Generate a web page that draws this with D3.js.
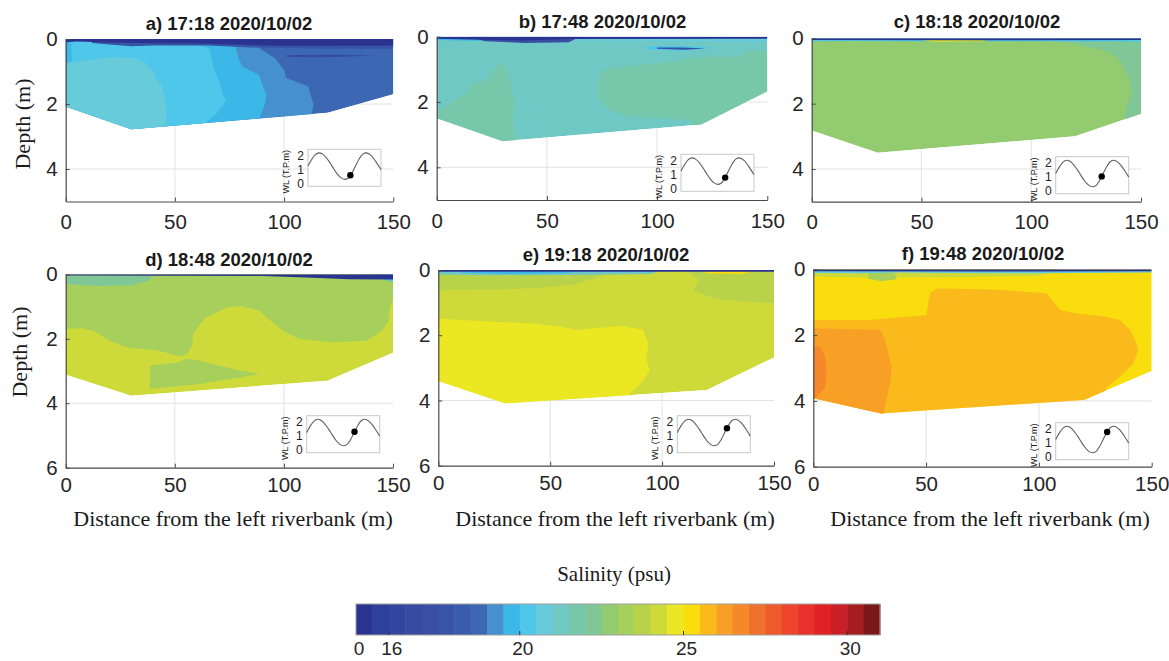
<!DOCTYPE html>
<html>
<head>
<meta charset="utf-8">
<script src="https://cdn.jsdelivr.net/npm/d3@7"></script>
<style>
  body { margin: 0; background: #ffffff; }
  svg { display: block; }
</style>
</head>
<body>
<svg id="fig" width="1169" height="661"></svg>
<script>
// ---------- colour scale (0.5 psu bins from 15 to 31) ----------
const binColors = [
  "#2b3390", "#2e3f9c", "#33469f", "#374ba2", "#3a4fa4", "#3953a6", "#3a5bab", "#3c68b3",
  "#4590cd", "#3bb7e8", "#4fc7ea", "#67cbd9", "#6fc8c4", "#77c8ab", "#80c797", "#93cb70",
  "#a6cf5c", "#b8d34a", "#cdda3a", "#ece723", "#f9dd0d", "#fbba1c", "#f8a025", "#f5892a",
  "#f0702d", "#ee5a2c", "#ec452b", "#e9302a", "#e22127", "#ca1f26", "#a31d21", "#7b1619"
];
const binEdges = d3.range(15, 31.01, 0.5);
const colorbarTicks = [15, 16, 20, 25, 30];
const colorbarTickText = ["0", "16", "20", "25", "30"];

// ---------- panel text ----------
const panelTitles = [
  "a) 17:18 2020/10/02", "b) 17:48 2020/10/02", "c) 18:18 2020/10/02",
  "d) 18:48 2020/10/02", "e) 19:18 2020/10/02", "f) 19:48 2020/10/02"
];
const distanceTicks = [0, 50, 100, 150];
const depthTicksTop = [0, 2, 4];
const depthTicksBottom = [0, 2, 4, 6];

// ---------- river bed: depth (m) at the survey stations ----------
const bedStations = [0, 30, 120, 150];
const bedA = [2.08, 2.78, 2.27, 1.70];
const bedB = [2.50, 3.20, 2.69, 1.67];
const bedC = [2.82, 3.50, 3.00, 2.31];
const bedD = [3.12, 3.77, 3.30, 2.43];
const bedE = [3.40, 4.09, 3.68, 2.68];
const bedF = [3.92, 4.38, 3.97, 3.09];

// ---------- salinity zones: [psu, outline as [distance m, depth m]] ----------
const baseA = 18.75;
const zonesA = [
  [19.25, [[0,0],[88,0],[89,0.3],[96,0.6],[100,0.95],[101,1.2],[111,1.45],[112.5,1.8],[113.5,2.0],[112.5,2.35],[112.5,3.2],[0,3.2]]],
  [19.75, [[0,0],[77,0],[78,0.3],[79.5,0.65],[81,0.85],[88.5,1.1],[90,1.4],[92,1.75],[91,2.05],[89,2.4],[88,3.2],[0,3.2]]],
  [20.25, [[0,0],[61,0],[61.5,0.2],[66,0.3],[67.5,0.85],[69,1.1],[70.5,1.35],[72,1.75],[73.5,1.9],[69,2.3],[64.5,2.55],[64,3.2],[0,3.2]]],
  [20.75, [[0,0.74],[5,0.7],[11,0.65],[20,0.55],[31,0.58],[36,0.72],[40,1.0],[41,1.2],[44,1.45],[45.5,1.8],[46,2.2],[46.5,3.2],[0,3.2]]],
  [19.75, [[0,0.1],[2.5,0.1],[2.8,0.7],[0,0.74]]],
  [17.75, [[12,0],[150,0],[150,0.3],[120,0.3],[100,0.28],[85,0.26],[65,0.2],[55,0.2],[40,0.2],[30,0.22],[20,0.17],[12,0.12]]],
  [16.75, [[101,0.5],[120,0.48],[142,0.51],[120,0.56],[101,0.55]]],
  [15.25, [[0,0],[150,0],[150,0.2],[100,0.21],[80,0.18],[60,0.14],[40,0.13],[20,0.11],[5,0.08],[0,0.1]]]
];

const baseB = 21.25;
const zonesB = [
  [21.75, [[0,2.25],[4,2.15],[10,1.85],[15,1.63],[15,1.45],[20,1.38],[23,1.3],[26,1.0],[29.5,0.75],[31,0.85],[32,1.1],[33.5,1.35],[34,1.7],[35.5,1.95],[35,2.4],[34.8,2.65],[36,3.4],[0,3.4]]],
  [21.75, [[74,1.15],[76,1.0],[84.7,0.92],[99.8,0.82],[110,0.72],[118,0.62],[130,0.61],[138,0.62],[140,0.45],[150,0.42],[150,3.4],[120,3.4],[115,2.55],[100,2.5],[88,2.45],[80,2.3],[76,2.1],[73.5,1.9],[73.3,1.5]]],
  [20.75, [[40,0],[150,0],[150,0.16],[100,0.15],[60,0.13],[40,0.1]]],
  [20.25, [[95,0.3],[110,0.28],[126,0.34],[110,0.44],[95,0.38]]],
  [17.25, [[100,0.33],[112,0.33],[122,0.36],[112,0.4],[100,0.37]]],
  [19.75, [[0,0],[25,0],[25,0.13],[10,0.12],[0,0.1]]],
  [17.25, [[15,0],[65,0],[60,0.17],[40,0.19],[22,0.14]]],
  [15.25, [[0,0],[150,0],[150,0.06],[60,0.07],[40,0.12],[25,0.1],[0,0.06]]]
];

const baseC = 22.75;
const zonesC = [
  [22.25, [[110,0],[150,0],[150,3.2],[142,3.2],[142.6,2.36],[144,2.0],[145.7,1.69],[145,1.28],[141.9,0.87],[138.8,0.56],[132.8,0.36],[117.6,0.15],[110,0.1]]],
  [20.25, [[0,0],[150,0],[150,0.1],[80,0.09],[55,0.1],[20,0.08],[0,0.09]]],
  [24.25, [[50,0.05],[80,0.05],[78,0.1],[55,0.11]]],
  [15.25, [[0,0],[150,0],[150,0.05],[80,0.06],[0,0.05]]]
];

const baseD = 24.25;
const zonesD = [
  [23.25, [[0,0],[150,0],[150,0.82],[148.5,1.03],[148,1.44],[145,1.75],[137.8,2.06],[122.5,2.11],[107,2.01],[99.6,1.75],[92,1.34],[89,1.13],[79.8,0.98],[73.7,1.03],[67.6,1.24],[64,1.35],[61.5,1.55],[58.4,1.86],[58,2.2],[56,2.45],[53,2.55],[50,2.5],[43,2.37],[35,2.32],[28,2.27],[20.3,2.06],[12.7,1.75],[7,1.67],[0,1.7]]],
  [23.25, [[38.6,2.84],[45,2.78],[52,2.73],[55,2.62],[60,2.66],[68,2.8],[76.8,2.94],[89,3.09],[80,3.2],[70,3.3],[61.5,3.4],[50,3.48],[38.6,3.56]]],
  [22.25, [[0,0.04],[40,0.04],[38,0.2],[30,0.34],[15,0.36],[0,0.3]]],
  [20.25, [[140,0],[150,0],[150,0.22],[146,0.18]]],
  [15.25, [[0,0],[150,0],[150,0.16],[130,0.15],[110,0.1],[90,0.05],[0,0.04]]]
];

const baseE = 24.25;
const zonesE = [
  [24.75, [[0,1.48],[6,1.52],[23,1.58],[42.4,1.64],[55,1.74],[61.8,1.84],[70,1.78],[82.6,1.72],[91.5,1.84],[93.8,2.25],[93,2.75],[94.5,3.07],[91.5,3.4],[85.6,3.78],[84,4.5],[0,4.5]]],
  [23.75, [[112,0],[150,0],[150,1.02],[139,0.97],[128.7,0.92],[121,0.82],[113.8,0.61],[116.8,0.31],[112,0.1]]],
  [23.75, [[0,0],[80,0],[70,0.25],[60,0.45],[45,0.55],[25,0.6],[0,0.62]]],
  [21.25, [[0,0],[100,0],[95,0.12],[60,0.15],[20,0.16],[0,0.14]]],
  [19.75, [[10,0.04],[65,0.04],[55,0.1],[30,0.12],[10,0.08]]],
  [25.25, [[118,0.04],[140,0.04],[136,0.12],[120,0.1]]],
  [15.25, [[0,0],[150,0],[150,0.05],[60,0.05],[0,0.05]]]
];

const baseF = 25.25;
const zonesF = [
  [25.75, [[0,1.54],[25,1.54],[40,1.45],[50.2,1.39],[51,1.0],[51.7,0.73],[54.7,0.58],[70,0.6],[84.2,0.63],[103.4,0.73],[106,0.95],[109.4,1.24],[116.7,1.34],[128,1.42],[136,1.54],[140.4,1.84],[143.3,2.25],[144,2.45],[141.9,2.86],[137,3.2],[130,3.6],[128,4.6],[0,4.6]]],
  [26.25, [[0,1.79],[29.6,1.84],[31.8,2.15],[33.2,2.55],[34.7,2.96],[34,3.47],[31.8,4.17],[31,4.6],[0,4.6]]],
  [26.75, [[0,2.35],[3,2.35],[5.2,2.65],[5.9,3.16],[5.2,3.6],[1.5,3.87],[0,3.95]]],
  [24.25, [[0,0],[110,0],[100,0.2],[60,0.24],[20,0.25],[0,0.22]]],
  [23.25, [[25,0.1],[36,0.1],[37,0.3],[30,0.36],[24,0.28]]],
  [20.75, [[0,0.05],[150,0.05],[150,0.1],[100,0.12],[60,0.11],[38,0.1],[20,0.12],[0,0.11]]],
  [15.25, [[0,0],[150,0],[150,0.06],[80,0.07],[0,0.06]]]
];

// ---------- tide curve for the inset (hours from start, water level T.P. m) ----------
const tideHours = d3.range(0, 21);
const tideLevel = [1.24, 1.71, 2.05, 2.18, 2.09, 1.84, 1.48, 1.07, 0.69, 0.42, 0.30,
                   0.38, 0.73, 1.24, 1.74, 2.09, 2.18, 2.05, 1.78, 1.40, 0.99];
const sampleHours = [11.6, 12.1, 12.6, 13.1, 13.6, 14.1];
const insetTicks = [0, 1, 2];

// ---------- layout ----------
const panels = [
  { L: 65.7,  R: 393.3,  T: 39,    B: 201.5, ymax: 5, bed: bedA, base: baseA, zones: zonesA, titleX: 229, titleY: 30,    inset: [308, 149.3] },
  { L: 436.7, R: 767.3,  T: 36.7,  B: 200,   ymax: 5, bed: bedB, base: baseB, zones: zonesB, titleX: 602.5, titleY: 28, inset: [681, 154.3] },
  { L: 811.7, R: 1141,   T: 38.3,  B: 201.7, ymax: 5, bed: bedC, base: baseC, zones: zonesC, titleX: 977, titleY: 28,    inset: [1055.7, 156.7] },
  { L: 65.7,  R: 393,    T: 274.3, B: 467.7, ymax: 6, bed: bedD, base: baseD, zones: zonesD, titleX: 229, titleY: 266,   inset: [306.7, 415.7] },
  { L: 438.3, R: 774,    T: 270,   B: 465.7, ymax: 6, bed: bedE, base: baseE, zones: zonesE, titleX: 606, titleY: 260.5, inset: [677.3, 415.7] },
  { L: 813.3, R: 1151.7, T: 269.3, B: 466.7, ymax: 6, bed: bedF, base: baseF, zones: zonesF, titleX: 983, titleY: 260,   inset: [1055.7, 422.7] }
];

const svg = d3.select("#fig");
const color = d3.scaleThreshold().domain(binEdges.slice(1, -1)).range(binColors);
const sansFont = "'Liberation Sans', Arial, Helvetica, sans-serif";
const serifFont = "'Liberation Serif', 'Times New Roman', serif";

panels.forEach((p, i) => {
  const x = d3.scaleLinear().domain([0, 150]).range([p.L, p.R]);
  const y = d3.scaleLinear().domain([0, p.ymax]).range([p.T, p.B]);
  const g = svg.append("g");
  const depthTicks = p.ymax === 5 ? depthTicksTop : depthTicksBottom;

  // grid lines
  g.append("g").selectAll("line").data(distanceTicks.slice(1, -1)).join("line")
    .attr("x1", d => x(d)).attr("x2", d => x(d)).attr("y1", p.T).attr("y2", p.B)
    .attr("stroke", "#e2e2e2").attr("stroke-width", 1);
  g.append("g").selectAll("line").data(depthTicks.filter(d => d > 0 && d < p.ymax)).join("line")
    .attr("x1", p.L).attr("x2", p.R).attr("y1", d => y(d)).attr("y2", d => y(d))
    .attr("stroke", "#e2e2e2").attr("stroke-width", 1);

  // wetted cross-section
  const section = [[0, 0], [150, 0]].concat(
    bedStations.map((s, k) => [s, p.bed[k]]).reverse());
  const toPath = d3.line().x(d => x(d[0])).y(d => y(d[1]));
  const clipId = "sec" + i;
  svg.append("clipPath").attr("id", clipId)
    .append("path").attr("d", toPath(section) + "Z");

  const fillG = g.append("g").attr("clip-path", `url(#${clipId})`);
  fillG.append("path").attr("d", toPath(section) + "Z").attr("fill", color(p.base));
  fillG.selectAll("path.zone").data(p.zones).join("path")
    .attr("class", "zone")
    .attr("d", d => toPath(d[1]) + "Z")
    .attr("fill", d => color(d[0]));

  // axes
  const xAxis = d3.axisBottom(x).tickValues(distanceTicks).tickSizeInner(-4).tickSizeOuter(0)
    .tickPadding(p.ymax === 5 ? 13 : 10);
  const yAxis = d3.axisLeft(y).tickValues(depthTicks).tickFormat(d3.format("d"))
    .tickSizeInner(-4).tickSizeOuter(0).tickPadding(8);
  const xa = g.append("g").attr("transform", `translate(0,${p.B})`).call(xAxis);
  const ya = g.append("g").attr("transform", `translate(${p.L},0)`).call(yAxis);
  [xa, ya].forEach(a => {
    a.select(".domain").attr("stroke", "#4a4a4a").attr("stroke-width", 1.2);
    a.selectAll(".tick line").attr("stroke", "#4a4a4a");
    a.selectAll(".tick text").attr("font-family", sansFont).attr("font-size", 20.5)
      .attr("fill", "#262626");
  });

  // title
  g.append("text").attr("x", p.titleX).attr("y", p.titleY).attr("text-anchor", "middle")
    .attr("font-family", sansFont).attr("font-weight", "bold").attr("font-size", 18.5)
    .attr("fill", "#1a1a1a").text(panelTitles[i]);

  // tide inset
  const iw = 73, ih = 37;
  const tx = d3.scaleLinear().domain([0, 20]).range([p.inset[0], p.inset[0] + iw]);
  const ty = d3.scaleLinear().domain([-0.19, 2.43]).range([p.inset[1] + ih, p.inset[1]]);
  const ig = g.append("g");
  ig.append("rect").attr("x", p.inset[0]).attr("y", p.inset[1]).attr("width", iw).attr("height", ih)
    .attr("fill", "#ffffff").attr("stroke", "#c8c8c8").attr("stroke-width", 1);
  const tide = tideHours.map((h, k) => [h, tideLevel[k]]);
  ig.append("path").attr("d", d3.line().x(d => tx(d[0])).y(d => ty(d[1])).curve(d3.curveMonotoneX)(tide))
    .attr("fill", "none").attr("stroke", "#5e5e5e").attr("stroke-width", 1.1);
  const h = sampleHours[i];
  const k0 = Math.floor(h);
  const lvl = tideLevel[k0] + (tideLevel[k0 + 1] - tideLevel[k0]) * (h - k0);
  ig.append("circle").attr("cx", tx(h)).attr("cy", ty(lvl)).attr("r", 3.2).attr("fill", "#000");
  ig.selectAll("text.it").data(insetTicks).join("text")
    .attr("x", p.inset[0] - 4).attr("y", d => ty(d)).attr("dy", "0.36em")
    .attr("text-anchor", "end").attr("font-family", sansFont).attr("font-size", 12)
    .attr("fill", "#222").text(d => d);
  ig.append("text")
    .attr("transform", `translate(${p.inset[0] - 19},${p.inset[1] + ih / 2 + 4}) rotate(-90)`)
    .attr("text-anchor", "middle").attr("font-family", sansFont).attr("font-size", 9)
    .attr("fill", "#222").text("WL (T.P.m)");

  // axis titles
  if (i === 0 || i === 3) {
    const cy = i === 0 ? 124 : 352;
    const cx = i === 0 ? 23 : 20;
    g.append("text").attr("transform", `translate(${cx + 7},${cy}) rotate(-90)`)
      .attr("text-anchor", "middle").attr("font-family", serifFont).attr("font-size", 22)
      .attr("fill", "#1a1a1a").text("Depth (m)");
  }
  if (i >= 3) {
    const cx = [233, 615, 990][i - 3];
    g.append("text").attr("x", cx).attr("y", 526).attr("text-anchor", "middle")
      .attr("font-family", serifFont).attr("font-size", 22).attr("fill", "#1a1a1a")
      .text("Distance from the left riverbank (m)");
  }
});

// ---------- colour bar ----------
const cb = d3.scaleLinear().domain([15, 31]).range([356, 880]);
const cbTop = 604, cbH = 31;
const cbg = svg.append("g");
cbg.selectAll("rect.bin").data(binColors).join("rect")
  .attr("x", (d, k) => cb(binEdges[k])).attr("y", cbTop)
  .attr("width", (d, k) => cb(binEdges[k + 1]) - cb(binEdges[k]) + 0.5).attr("height", cbH)
  .attr("fill", d => d);
cbg.append("rect").attr("x", cb(15)).attr("y", cbTop).attr("width", cb(31) - cb(15)).attr("height", cbH)
  .attr("fill", "none").attr("stroke", "#a0a0a0").attr("stroke-width", 1);
cbg.selectAll("line.cbt").data(colorbarTicks.slice(1)).join("line")
  .attr("x1", d => cb(d)).attr("x2", d => cb(d)).attr("y1", cbTop + cbH).attr("y2", cbTop + cbH - 4)
  .attr("stroke", "#333");
cbg.selectAll("text.cbl").data(colorbarTicks).join("text")
  .attr("x", d => cb(d) + 3).attr("y", 655)
  .attr("text-anchor", "middle").attr("font-family", sansFont).attr("font-size", 19)
  .attr("fill", "#262626").text((d, k) => colorbarTickText[k]);
cbg.append("text").attr("x", 614).attr("y", 581).attr("text-anchor", "middle")
  .attr("font-family", serifFont).attr("font-size", 21).attr("fill", "#1a1a1a")
  .text("Salinity (psu)");
</script>
</body>
</html>
